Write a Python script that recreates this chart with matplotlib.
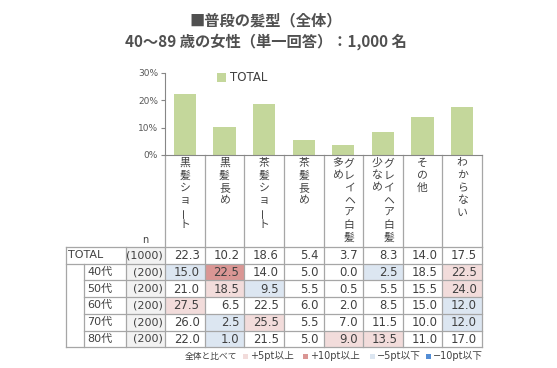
import numpy as np
import matplotlib
matplotlib.use("Agg")
import matplotlib.pyplot as plt
from matplotlib.patches import Rectangle

plt.rcParams['font.family'] = ['DejaVu Sans', 'Noto Sans CJK JP']

# -------------------------------------------------------------------------
# Data
# -------------------------------------------------------------------------

title_lines = ["■普段の髪型（全体）", "40～89 歳の女性（単一回答）：1,000 名"]

# category labels, written vertically (right column first)
categories = [
    ["黒髪ショート"],
    ["黒髪長め"],
    ["茶髪ショート"],
    ["茶髪長め"],
    ["グレイヘア白髪", "多め"],
    ["グレイヘア白髪", "少なめ"],
    ["その他"],
    ["わからない"],
]

row_labels = ["TOTAL", "40代", "50代", "60代", "70代", "80代"]
row_n = [1000, 200, 200, 200, 200, 200]

total = [22.3, 10.2, 18.6, 5.4, 3.7, 8.3, 14.0, 17.5]
age40 = [15.0, 22.5, 14.0, 5.0, 0.0, 2.5, 18.5, 22.5]
age50 = [21.0, 18.5, 9.5, 5.5, 0.5, 5.5, 15.5, 24.0]
age60 = [27.5, 6.5, 22.5, 6.0, 2.0, 8.5, 15.0, 12.0]
age70 = [26.0, 2.5, 25.5, 5.5, 7.0, 11.5, 10.0, 12.0]
age80 = [22.0, 1.0, 21.5, 5.0, 9.0, 13.5, 11.0, 17.0]

yticks = [0, 10, 20, 30]

legend_labels = ["+5pt以上", "+10pt以上", "−5pt以下", "−10pt以下"]

# -------------------------------------------------------------------------
# Style
# -------------------------------------------------------------------------

BAR_C = "#C4D79B"
TXT = "#404040"
GRID = "#A6A6A6"
C_P5, C_P10, C_M5, C_M10 = "#F2DCDB", "#DA9694", "#DCE6F1", "#538DD5"
JP = ['Noto Sans CJK JP']

W, H = 557, 368
fig = plt.figure(figsize=(W / 100, H / 100), dpi=100)

# pixel-space overlay for table and texts
lay = fig.add_axes([0, 0, 1, 1])
lay.set_xlim(0, W)
lay.set_ylim(H, 0)
lay.axis("off")

col_x0, col_x1 = 165, 482
ncol = len(total)
col_w = (col_x1 - col_x0) / ncol
ax_top, ax_bot = 73, 155
tab_top, row_h = 247, 16.7

# -------------------------------------------------------------------------
# Title
# -------------------------------------------------------------------------

lay.text(266, 20, title_lines[0], ha="center", va="center", fontsize=11,
         fontweight="bold", color="#505050", family=JP)
lay.text(266, 42, title_lines[1], ha="center", va="center", fontsize=11,
         fontweight="bold", color="#505050", family=JP)

# -------------------------------------------------------------------------
# Bar chart
# -------------------------------------------------------------------------

ax = fig.add_axes([col_x0 / W, 1 - ax_bot / H, (col_x1 - col_x0) / W,
                   (ax_bot - ax_top) / H])
x = np.arange(ncol)
ax.bar(x, total, width=0.56, color=BAR_C, label="TOTAL")
ax.set_xlim(-0.5, ncol - 0.5)
ax.set_ylim(0, 30)
ax.set_yticks(yticks)
ax.set_yticklabels([f"{t}%" for t in yticks], fontsize=6.5, color="#595959")
ax.set_xticks([])
ax.tick_params(axis="y", length=3, width=0.8, color="#868686", pad=2)
for s in ["top", "right"]:
    ax.spines[s].set_visible(False)
for s in ["left", "bottom"]:
    ax.spines[s].set_color("#868686")
    ax.spines[s].set_linewidth(0.8)
ax.patch.set_alpha(0)
ax.legend(loc="center left", bbox_to_anchor=(0.13, 0.94), frameon=False,
          fontsize=8.5, handlelength=0.8, handleheight=0.8, handletextpad=0.3,
          labelcolor=TXT)

# -------------------------------------------------------------------------
# Header with vertical category labels
# -------------------------------------------------------------------------

for i in range(ncol + 1):
    xe = col_x0 + i * col_w
    lay.plot([xe, xe], [ax_bot, tab_top], color=GRID, lw=0.9)

for i, cols in enumerate(categories):
    cx = col_x0 + (i + 0.5) * col_w
    offs = [0] if len(cols) == 1 else [6, -6]
    for line, dx in zip(cols, offs):
        for k, ch in enumerate(line):
            rot = 90 if ch == "ー" else 0
            lay.text(cx + dx, 163 + k * 12.4, ch, ha="center", va="center",
                     fontsize=7.8, color=TXT, family=JP, rotation=rot)

lay.text(145, 240, "n", ha="center", va="center", fontsize=7, color=TXT)

# -------------------------------------------------------------------------
# Table
# -------------------------------------------------------------------------

rows = [total, age40, age50, age60, age70, age80]
nrow = len(rows)
tab_bot = tab_top + nrow * row_h


def cell_color(v, t):
    d = round(v - t, 1)
    if d >= 10:
        return C_P10
    if d >= 5:
        return C_P5
    if d <= -10:
        return C_M10
    if d <= -5:
        return C_M5
    return None


for r, vals in enumerate(rows):
    y0 = tab_top + r * row_h
    yc = y0 + row_h / 2
    # n column
    lay.add_patch(Rectangle((126, y0), col_x0 - 126, row_h, fc="#F2F2F2",
                            ec="none"))
    lay.text(163, yc, f"({row_n[r]})", ha="right", va="center", fontsize=8,
             color=TXT)
    lx = 68 if r == 0 else 87
    lay.text(lx, yc, row_labels[r], ha="left", va="center", fontsize=8,
             color=TXT)
    for c, v in enumerate(vals):
        xl = col_x0 + c * col_w
        if r > 0:
            fc = cell_color(v, total[c])
            if fc:
                lay.add_patch(Rectangle((xl, y0), col_w, row_h, fc=fc,
                                        ec="none"))
        lay.text(xl + col_w - 5, yc + 0.5, f"{v:.1f}", ha="right",
                 va="center", fontsize=8.4, color=TXT)

# grid lines
for r in range(nrow + 1):
    y = tab_top + r * row_h
    xs = 66 if r in (0, 1, nrow) else 84
    lay.plot([xs, col_x1], [y, y], color=GRID, lw=0.9)
lay.plot([66, 66], [tab_top, tab_bot], color=GRID, lw=0.9)
lay.plot([84, 84], [tab_top + row_h, tab_bot], color=GRID, lw=0.9)
for xe in [126] + [col_x0 + i * col_w for i in range(ncol + 1)]:
    lay.plot([xe, xe], [tab_top, tab_bot], color=GRID, lw=0.9)

# -------------------------------------------------------------------------
# Bottom legend
# -------------------------------------------------------------------------

ly = 356
lay.text(211, ly, "全体と比べて", ha="center", va="center", fontsize=6.3,
         color=TXT, family=JP)
leg_x = [245, 305, 372, 428]
for lx, lc, lt in zip(leg_x, [C_P5, C_P10, C_M5, C_M10], legend_labels):
    lay.add_patch(Rectangle((lx - 2.5, ly - 2.5), 5, 5, fc=lc, ec="none"))
    lay.text(lx + 5, ly, lt, ha="left", va="center", fontsize=7,
             color=TXT)

fig.savefig("out.png", dpi=100)
